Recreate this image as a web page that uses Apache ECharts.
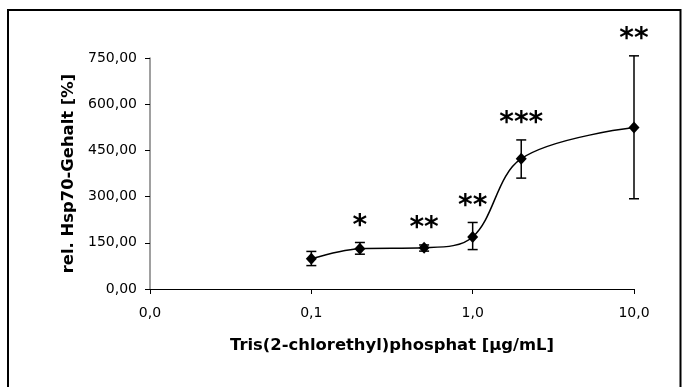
<!DOCTYPE html>
<html>
<head>
<meta charset="utf-8">
<script src="https://cdn.jsdelivr.net/npm/echarts@6/dist/echarts.min.js"></script>
<style>
  html, body { margin: 0; padding: 0; background: #fff; }
  #chart { width: 691px; height: 387px; }
</style>
</head>
<body>
<div id="chart"></div>
<script>
// Dose (µg/mL), mean Hsp70 content (%), error bar bounds and significance marks
const doses = [0.1, 0.2, 0.5, 1, 2, 10];
const means = [98, 131, 134, 169, 423, 524];
const lows  = [76, 113, 123, 128, 360, 293];
const highs = [122, 151, 143, 216, 484, 757];
const stars = ['', '*', '**', '**', '***', '**'];

const xTitle = 'Tris(2-chlorethyl)phosphat [µg/mL]';
const yTitle = 'rel. Hsp70-Gehalt [%]';

const FONT = 'DejaVu Sans';
const comma = (v, d) => v.toFixed(d).replace('.', ',');

const chart = echarts.init(document.getElementById('chart'));

chart.setOption({
  animation: false,
  backgroundColor: '#fff',
  graphic: [{
    type: 'rect',
    shape: { x: 8, y: 10, width: 672.5, height: 400 },
    style: { fill: 'none', stroke: '#000', lineWidth: 2 },
    silent: true
  }],
  grid: { left: 150, right: 57, top: 58, bottom: 98, containLabel: false },
  xAxis: {
    type: 'log',
    logBase: 10,
    min: 0.01,
    max: 10,
    splitNumber: 3,
    name: xTitle,
    nameLocation: 'middle',
    nameGap: 49,
    nameTextStyle: { fontFamily: FONT, fontWeight: 'bold', fontSize: 16.4, color: '#000' },
    axisLine: { lineStyle: { color: '#000', width: 1 } },
    axisTick: { show: true, length: 5, lineStyle: { color: '#000' } },
    minorTick: { show: false },
    splitLine: { show: false },
    axisLabel: {
      fontFamily: FONT, fontSize: 14, color: '#000', margin: 17,
      formatter: v => comma(v, 1)
    }
  },
  yAxis: {
    type: 'value',
    min: 0,
    max: 750,
    interval: 150,
    name: yTitle,
    nameLocation: 'middle',
    nameGap: 73,
    nameRotate: 90,
    nameTextStyle: { fontFamily: FONT, fontWeight: 'bold', fontSize: 16.4, color: '#000' },
    axisLine: { show: true, lineStyle: { color: '#808080', width: 1.5 } },
    axisTick: { show: true, length: 5, lineStyle: { color: '#000' } },
    splitLine: { show: false },
    axisLabel: {
      fontFamily: FONT, fontSize: 14, color: '#000', margin: 13,
      formatter: v => comma(v, 2)
    }
  },
  series: [
    {
      // error bars with significance asterisks above
      type: 'custom',
      clip: false,
      z: 3,
      data: doses.map((d, i) => [d, lows[i], highs[i], i]),
      encode: { x: 0, y: [1, 2] },
      renderItem: (params, api) => {
        const x = api.value(0);
        const lo = api.coord([x, api.value(1)]);
        const hi = api.coord([x, api.value(2)]);
        const cap = 5;
        const style = { stroke: '#000', lineWidth: 1.5 };
        const children = [
          { type: 'line', shape: { x1: hi[0], y1: hi[1], x2: lo[0], y2: lo[1] }, style },
          { type: 'line', shape: { x1: hi[0] - cap, y1: hi[1], x2: hi[0] + cap, y2: hi[1] }, style },
          { type: 'line', shape: { x1: lo[0] - cap, y1: lo[1], x2: lo[0] + cap, y2: lo[1] }, style }
        ];
        const s = stars[api.value(3)];
        if (s) {
          children.push({
            type: 'text',
            style: {
              text: s, x: hi[0], y: hi[1] - 2,
              fill: '#000', font: 'bold 28px "' + FONT + '"',
              align: 'center', verticalAlign: 'bottom'
            }
          });
        }
        return { type: 'group', children };
      }
    },
    {
      type: 'line',
      z: 4,
      data: doses.map((d, i) => [d, means[i]]),
      smooth: 0.35,
      symbol: 'diamond',
      symbolSize: [11, 12],
      showAllSymbol: true,
      lineStyle: { color: '#000', width: 1.5 },
      itemStyle: { color: '#000' }
    }
  ]
});
</script>
</body>
</html>
